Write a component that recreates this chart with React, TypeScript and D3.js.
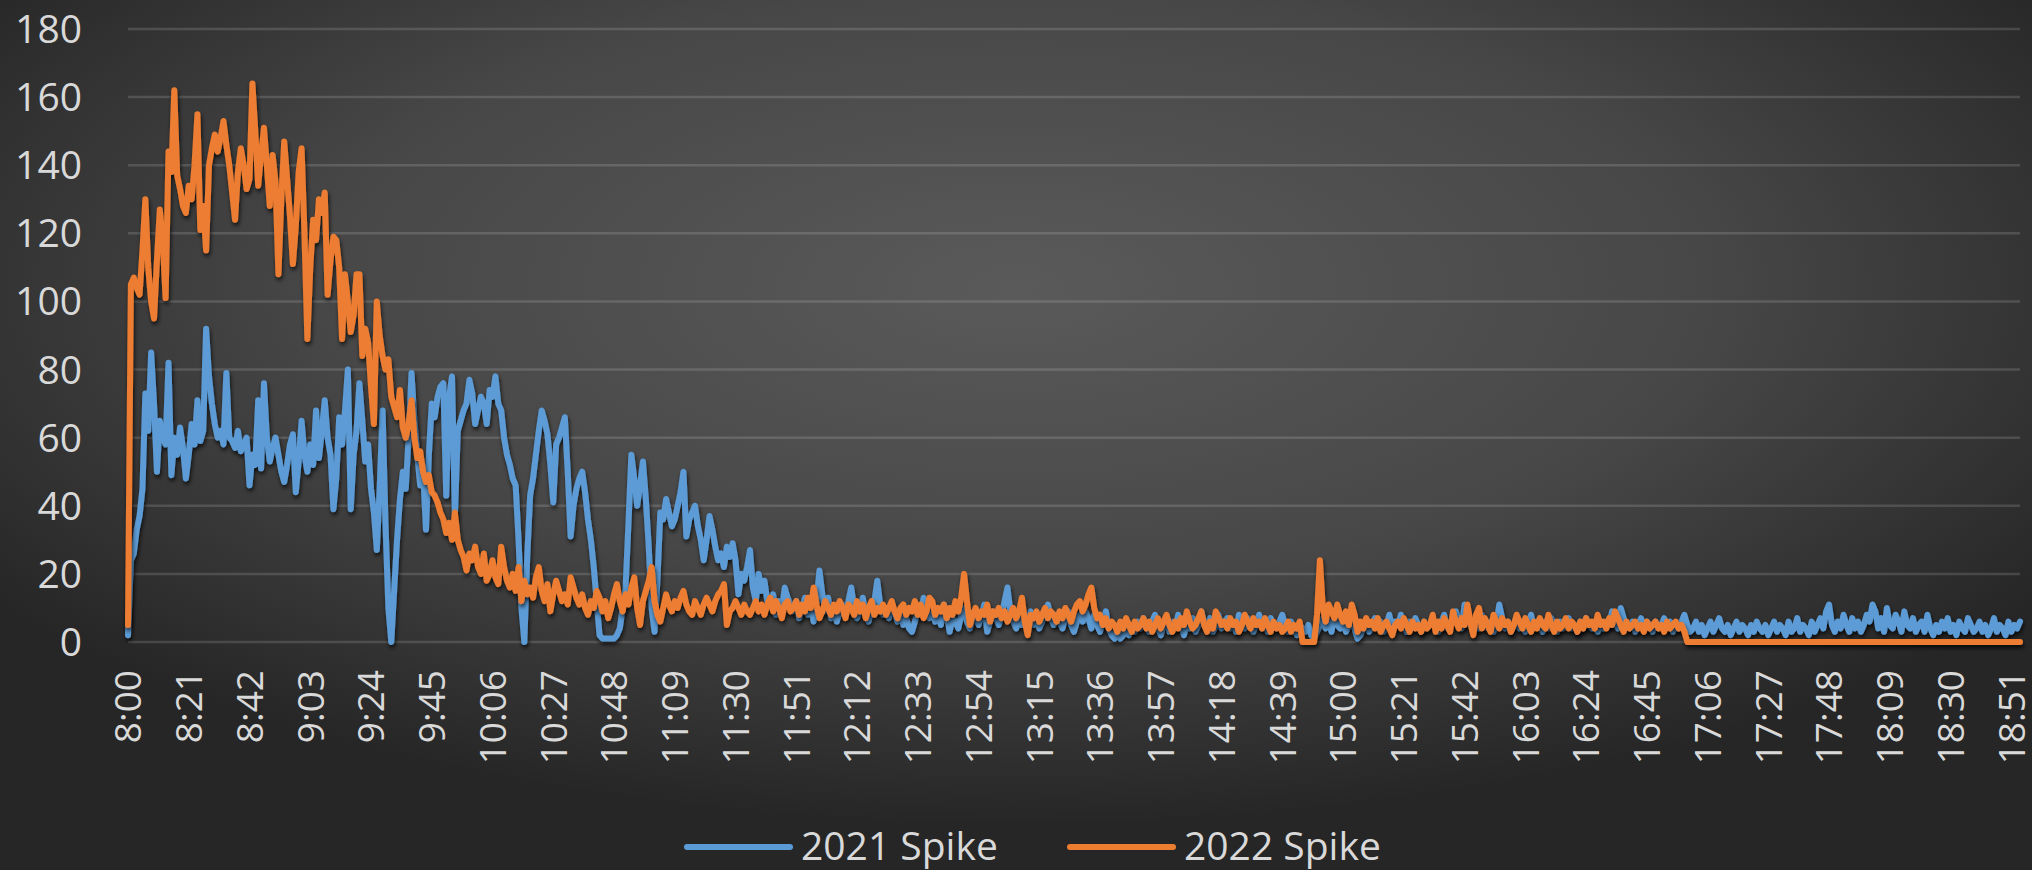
import React from 'react';
import * as d3 from 'd3';

const seriesNames = ['2021 Spike', '2022 Spike'];
const seriesColors = ['#5B9BD5', '#ED7D31'];
const yTicks = [0, 20, 40, 60, 80, 100, 120, 140, 160, 180];
const xTickLabels = [
  '8:00', '8:21', '8:42', '9:03', '9:24', '9:45', '10:06', '10:27', '10:48', '11:09', '11:30',
  '11:51', '12:12', '12:33', '12:54', '13:15', '13:36', '13:57', '14:18', '14:39', '15:00',
  '15:21', '15:42', '16:03', '16:24', '16:45', '17:06', '17:27', '17:48', '18:09', '18:30', '18:51',
];
const startTime = '8:00';

// one value per minute from 8:00
const spike2021 = [
  2, 24, 26, 33, 37, 45, 73, 62, 85, 70,
  50, 65, 60, 58, 82, 49, 60, 55, 63, 57,
  48, 55, 64, 58, 71, 59, 62, 92, 78, 70,
  64, 60, 62, 58, 79, 60, 59, 57, 62, 56,
  58, 60, 46, 55, 52, 71, 51, 76, 60, 53,
  57, 60, 55, 50, 47, 52, 58, 61, 44, 53,
  65, 55, 50, 58, 52, 68, 54, 62, 71, 60,
  55, 39, 48, 66, 58, 68, 80, 39, 55, 62,
  76, 65, 53, 58, 45, 38, 27, 45, 68, 35,
  10, 0, 15, 30, 42, 50, 45, 60, 79, 65,
  55, 46, 50, 33, 55, 70, 66, 72, 75, 76,
  43, 72, 78, 37, 62, 65, 68, 70, 77, 73,
  64, 68, 72, 70, 64, 74, 72, 78, 70, 68,
  60, 55, 52, 48, 46, 30, 10, 0, 25, 43,
  48, 55, 62, 68, 65, 61, 52, 41, 58, 60,
  63, 66, 50, 31, 40, 45, 48, 50, 44, 36,
  30, 22, 12, 2, 1, 1, 1, 1, 1, 2,
  4, 10, 16, 35, 55, 48, 40, 46, 53, 42,
  28, 10, 3, 18, 38, 36, 42, 38, 34, 36,
  40, 44, 50, 31, 36, 38, 40, 34, 30, 24,
  30, 37, 33, 28, 24, 26, 22, 28, 25, 29,
  24, 14, 20, 18, 22, 27, 16, 12, 20, 15,
  18, 12, 10, 14, 8, 12, 9, 16, 13, 11,
  9, 12, 7, 10, 13, 8, 11, 6, 12, 21,
  14, 9, 13, 7, 10, 6, 9, 11, 8, 12,
  16, 10, 7, 9, 13, 8, 6, 10, 12, 18,
  11, 8, 10, 7, 11, 9, 6, 8, 5, 7,
  4, 3, 6, 9, 8, 13, 10, 7, 9, 6,
  8, 5, 11, 9, 3, 7, 6, 4, 8, 10,
  6, 4, 7, 9, 5, 8, 11, 3, 6, 9,
  7, 5, 8, 12, 16, 9, 6, 4, 7, 5,
  8, 6, 9, 5, 7, 4, 6, 8, 11, 7,
  5, 8, 6, 4, 7, 9, 5, 3, 6, 8,
  6, 9, 7, 4, 8, 5, 3, 6, 9, 4,
  2, 1, 3, 1, 2, 4, 2, 5, 3, 6,
  4, 7, 5, 3, 6, 8, 4, 2, 5, 7,
  3, 6, 4, 8, 5, 2, 6, 4, 7, 3,
  5, 9, 6, 4, 7, 3, 5, 8, 4, 6,
  7, 4, 6, 3, 8, 5, 4, 7, 6, 3,
  5, 8, 4, 6, 3, 7, 5, 4, 6, 8,
  5, 3, 6, 4, 2, 5, 4, 3, 5, 2,
  1, 3, 5, 7, 4, 6, 3, 8, 5, 4,
  6, 3, 5, 7, 4, 1, 2, 4, 6, 3,
  5, 7, 4, 6, 3, 5, 8, 4, 6, 5,
  8, 5, 3, 6, 4, 7, 5, 3, 6, 4,
  5, 7, 4, 3, 6, 8, 4, 5, 7, 9,
  6, 4, 11, 7, 5, 3, 6, 4, 8, 5,
  4, 6, 3, 5, 11, 7, 4, 6, 3, 5,
  7, 4, 6, 3, 5, 8, 4, 6, 5, 3,
  6, 4, 7, 5, 3, 6, 4, 5, 7, 4,
  5, 3, 6, 4, 7, 5, 4, 6, 3, 5,
  4, 6, 5, 9, 6, 4, 10, 7, 5, 4,
  6, 3, 5, 7, 4, 6, 5, 3, 6, 4,
  5, 7, 4, 6, 3, 5, 4, 6, 8, 5,
  3, 4, 6, 3, 5, 2, 4, 6, 3, 5,
  7, 4, 3, 5, 2, 4, 6, 3, 5, 4,
  2, 5, 3, 6, 4, 3, 5, 2, 4, 6,
  3, 5, 4, 2, 6, 3, 4, 7, 3, 5,
  4, 2, 6, 3, 5, 7, 4, 9, 11, 5,
  3, 6, 4, 8, 5, 3, 7, 4, 6, 3,
  5, 8, 6, 11, 9, 4, 7, 3, 10, 5,
  4, 8, 6, 3, 9, 5, 4, 7, 3, 5,
  6, 3, 8, 4, 2, 5, 3, 6, 4, 7,
  3, 5, 2, 6, 4, 3, 7, 5, 3, 4,
  6, 3, 5, 2, 4, 7, 3, 5, 4, 2,
  6, 3, 5, 4, 6,
];

const spike2022 = [
  5, 105, 107, 104, 102, 115, 130, 110, 100, 95,
  112, 127, 118, 101, 144, 138, 162, 137, 133, 128,
  126, 134, 130, 140, 155, 121, 128, 115, 140, 145,
  149, 144, 148, 153, 146, 140, 132, 124, 138, 145,
  140, 133, 136, 164, 150, 134, 143, 151, 140, 128,
  143, 135, 108, 130, 147, 136, 125, 111, 122, 138,
  145, 120, 89, 110, 124, 118, 130, 126, 132, 102,
  112, 119, 118, 110, 89, 108, 100, 91, 96, 108,
  108, 84, 92, 88, 75, 64, 100, 90, 84, 80,
  83, 72, 69, 66, 74, 63, 60, 64, 71, 60,
  54, 56, 50, 47, 49, 44, 43, 41, 38, 36,
  32, 35, 30, 38, 30, 27, 25, 21, 26, 24,
  28, 22, 20, 26, 18, 20, 24, 19, 17, 28,
  22, 18, 16, 20, 15, 22, 12, 18, 14, 16,
  13, 19, 22, 15, 12, 17, 9, 14, 18, 15,
  12, 14, 11, 19, 16, 13, 11, 14, 10, 8,
  12, 10, 15, 13, 9, 12, 7, 10, 14, 17,
  12, 9, 14, 11, 16, 19, 10, 5, 12, 15,
  18, 22, 12, 8, 6, 10, 14, 11, 9, 12,
  10, 13, 15, 11, 9, 8, 12, 10, 8, 11,
  13, 11, 9, 12, 14, 15, 17, 5, 9, 10,
  12, 10, 8, 11, 9, 8, 10, 12, 9, 11,
  8, 11, 13, 9, 12, 10, 7, 11, 12, 9,
  10, 12, 8, 11, 9, 13, 10, 16, 11, 7,
  9, 12, 10, 8, 11, 9, 12, 10, 7, 11,
  10, 8, 12, 9, 11, 7, 10, 12, 8, 10,
  9, 11, 8, 10, 12, 9, 7, 10, 11, 8,
  10, 9, 12, 8, 11, 7, 9, 13, 12, 8,
  10, 9, 11, 7, 10, 8, 12, 9, 13, 20,
  12, 5, 8, 10, 7, 9, 8, 11, 6, 9,
  8, 10, 7, 9, 6, 8, 10, 7, 9, 13,
  6, 2, 8, 7, 9, 6, 8, 10, 7, 9,
  8, 6, 9, 7, 10, 8, 6, 9, 11, 12,
  9, 11, 14, 16, 10, 7, 8, 5, 7, 4,
  6, 5, 3, 6, 4, 7, 5, 3, 6, 4,
  5, 7, 4, 6, 3, 5, 7, 4, 6, 8,
  5, 3, 6, 4, 7, 5, 9, 6, 4, 5,
  7, 9, 5, 3, 6, 4, 9, 7, 5, 6,
  4, 7, 5, 6, 3, 5, 8, 6, 4, 7,
  5, 6, 4, 7, 5, 3, 6, 4, 5, 3,
  4, 6, 3, 5, 4, 6, 0, 0, 0, 0,
  0, 8, 24, 10, 6, 11, 9, 7, 11, 8,
  6, 9, 5, 11, 8, 3, 6, 4, 7, 5,
  6, 4, 7, 3, 5, 6, 4, 2, 5, 6,
  4, 7, 5, 3, 6, 4, 5, 3, 6, 4,
  5, 8, 3, 6, 4, 7, 5, 3, 9, 6,
  4, 7, 5, 11, 6, 2, 8, 10, 4, 7,
  5, 3, 8, 6, 4, 7, 5, 6, 3, 5,
  8, 6, 4, 7, 5, 3, 6, 4, 7, 5,
  4, 8, 5, 3, 6, 4, 5, 7, 4, 6,
  5, 3, 6, 4, 7, 5, 6, 4, 8, 5,
  6, 4, 7, 5, 9, 7, 5, 3, 6, 4,
  5, 6, 4, 5, 3, 6, 4, 5, 6, 4,
  5, 3, 6, 4, 5, 6, 4, 5, 3, 0,
  0, 0, 0, 0, 0, 0, 0, 0, 0, 0,
  0, 0, 0, 0, 0, 0, 0, 0, 0, 0,
  0, 0, 0, 0, 0, 0, 0, 0, 0, 0,
  0, 0, 0, 0, 0, 0, 0, 0, 0, 0,
  0, 0, 0, 0, 0, 0, 0, 0, 0, 0,
  0, 0, 0, 0, 0, 0, 0, 0, 0, 0,
  0, 0, 0, 0, 0, 0, 0, 0, 0, 0,
  0, 0, 0, 0, 0, 0, 0, 0, 0, 0,
  0, 0, 0, 0, 0, 0, 0, 0, 0, 0,
  0, 0, 0, 0, 0, 0, 0, 0, 0, 0,
  0, 0, 0, 0, 0, 0, 0, 0, 0, 0,
  0, 0, 0, 0, 0,
];

const W = 2032;
const H = 870;
const FONT = "'Open Sans', 'Liberation Sans', sans-serif";

function toMinutes(s: string) {
  const [h, m] = s.split(':').map(Number);
  return h * 60 + m;
}

export default function App() {
  const series = [spike2021, spike2022];
  const n = Math.max(spike2021.length, spike2022.length);
  const plot = { left: 128, right: 2020, top: 29, bottom: 642 };

  const x = d3.scaleLinear().domain([0, n - 1]).range([plot.left, plot.right]);
  const y = d3.scaleLinear().domain([0, 180]).range([plot.bottom, plot.top]);
  const line = d3
    .line<number>()
    .x((_, i) => x(i))
    .y((d) => y(d));

  const t0 = toMinutes(startTime);

  const legendItems = [
    { lineX: 687, textX: 801 },
    { lineX: 1070, textX: 1184 },
  ];

  return (
    <svg
      width={W}
      height={H}
      style={{ position: 'absolute', left: 0, top: 0, display: 'block' }}
      fontFamily={FONT}
    >
      <defs>
        <radialGradient id="bg" cx="0.5" cy="0.33" r="0.62" fx="0.5" fy="0.33">
          <stop offset="0" stopColor="#5a5a5a" />
          <stop offset="0.55" stopColor="#474747" />
          <stop offset="1" stopColor="#262626" />
        </radialGradient>
        <filter id="shadow" x="-5%" y="-5%" width="110%" height="115%">
          <feDropShadow dx="1" dy="3" stdDeviation="2.2" floodColor="#000" floodOpacity="0.75" />
        </filter>
      </defs>
      <rect x={0} y={0} width={W} height={H} fill="url(#bg)" />

      {/* gridlines */}
      {yTicks.map((t) => (
        <line
          key={t}
          x1={plot.left}
          x2={plot.right}
          y1={y(t)}
          y2={y(t)}
          stroke="rgba(255,255,255,0.14)"
          strokeWidth={2.5}
        />
      ))}

      {/* y labels */}
      {yTicks.map((t) => (
        <text
          key={t}
          x={82}
          y={y(t)}
          dy="0.36em"
          textAnchor="end"
          fontSize={39}
          fill="#d9d9d9"
        >
          {t}
        </text>
      ))}

      {/* x labels */}
      {xTickLabels.map((lab) => {
        const px = x(toMinutes(lab) - t0);
        return (
          <text
            key={lab}
            transform={`translate(${px},${670}) rotate(-90)`}
            textAnchor="end"
            dy="0.36em"
            fontSize={37}
            fill="#d9d9d9"
          >
            {lab}
          </text>
        );
      })}

      {/* series */}
      {series.map((s, i) => (
        <path
          key={i}
          d={line(s) || ''}
          fill="none"
          stroke={seriesColors[i]}
          strokeWidth={6}
          strokeLinejoin="round"
          strokeLinecap="round"
          filter="url(#shadow)"
        />
      ))}

      {/* legend */}
      {legendItems.map((it, i) => (
        <g key={i}>
          <line
            x1={it.lineX}
            x2={it.lineX + 103}
            y1={847}
            y2={847}
            stroke={seriesColors[i]}
            strokeWidth={6}
            strokeLinecap="round"
          />
          <text x={it.textX} y={860} fontSize={39} fill="#d9d9d9">
            {seriesNames[i]}
          </text>
        </g>
      ))}
    </svg>
  );
}
